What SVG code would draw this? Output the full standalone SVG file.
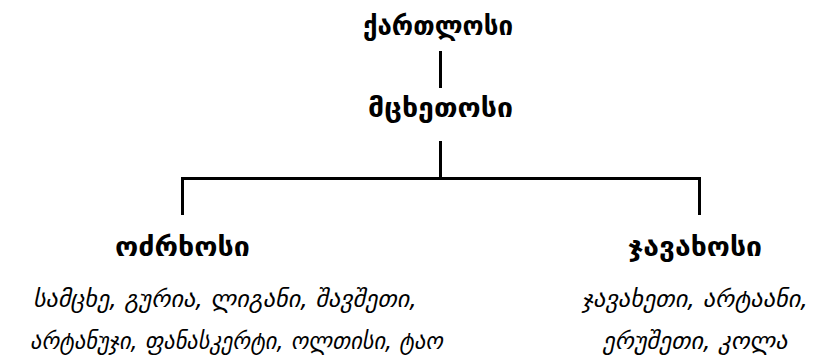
<svg xmlns="http://www.w3.org/2000/svg" width="814" height="360" viewBox="0 0 814 360">
<style>
.t{font-family:"DejaVu Sans",sans-serif;font-weight:bold;font-size:26px;fill:#000;text-anchor:middle}
.i{font-family:"DejaVu Sans",sans-serif;font-style:italic;font-size:24px;fill:#000}
.m{text-anchor:middle}
.c{stroke:#000;stroke-width:3;fill:none}
</style>
<rect width="814" height="360" fill="#fff"/>
<g id="connectors">
<line class="c" x1="440.5" y1="51" x2="440.5" y2="88"/>
<line class="c" x1="440.5" y1="141" x2="440.5" y2="178"/>
<polyline class="c" points="182.5,215 182.5,178.5 699.5,178.5 699.5,215"/>
</g>
<g id="kartlosi"><text class="t" x="438" y="35" textLength="150" lengthAdjust="spacingAndGlyphs">ქართლოსი</text></g>
<g id="mtskhetosi"><text class="t" x="440.5" y="117" textLength="145" lengthAdjust="spacingAndGlyphs">მცხეთოსი</text></g>
<g id="odzrkhosi"><text class="t" x="182.5" y="256" textLength="135" lengthAdjust="spacingAndGlyphs">ოძრხოსი</text>
<text class="i" x="33" y="307" textLength="384" lengthAdjust="spacingAndGlyphs">სამცხე, გურია, ლიგანი, შავშეთი,</text>
<text class="i" x="30" y="349" textLength="413" lengthAdjust="spacingAndGlyphs">არტანუჯი, ფანასკერტი, ოლთისი, ტაო</text></g>
<g id="javakhosi"><text class="t" x="695" y="256" textLength="134" lengthAdjust="spacingAndGlyphs">ჯავახოსი</text>
<text class="i m" x="695" y="307" textLength="226" lengthAdjust="spacingAndGlyphs">ჯავახეთი, არტაანი,</text>
<text class="i m" x="695" y="349" textLength="185" lengthAdjust="spacingAndGlyphs">ერუშეთი, კოლა</text></g>
</svg>
